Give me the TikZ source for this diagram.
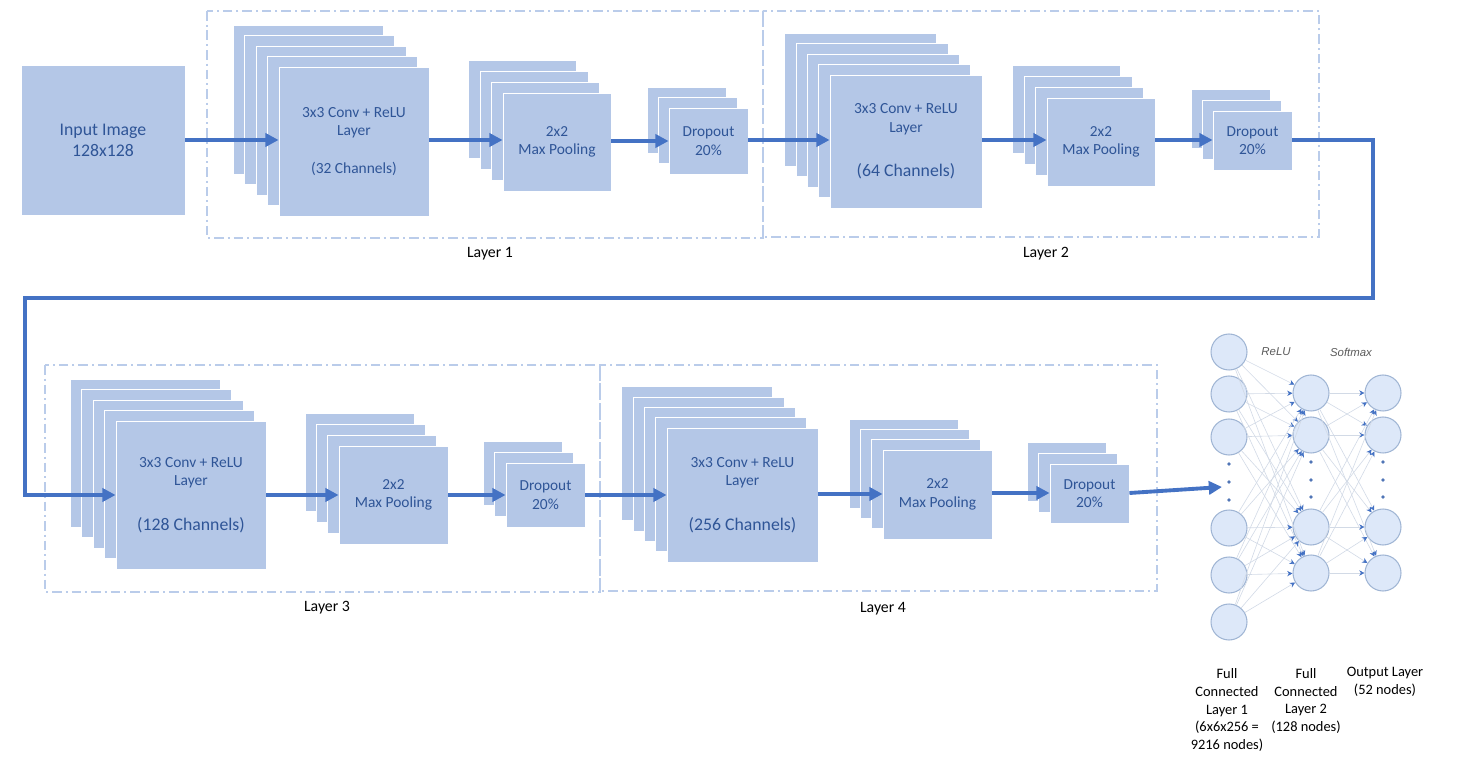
\documentclass[tikz,border=0pt]{standalone}
\usepackage{fontspec}
\setmainfont{Carlito}
\newfontfamily\arialfont{Liberation Sans}
\usetikzlibrary{arrows.meta}
\definecolor{boxblue}{RGB}{180,199,231}
\definecolor{txtblue}{RGB}{47,85,151}
\definecolor{arrblue}{RGB}{68,114,196}
\definecolor{dashblue}{RGB}{186,204,234}
\definecolor{neufill}{RGB}{221,232,249}
\definecolor{neudraw}{RGB}{160,181,212}
\definecolor{edgegray}{RGB}{210,218,230}
\definecolor{actgray}{RGB}{90,90,90}
\tikzset{
  fmap/.style={rectangle, fill=boxblue, draw=white, line width=0.5pt, inner sep=0pt,
    align=center, text=txtblue, font=\fontsize{8.8}{10.5}\selectfont},
  fmback/.style={fill=boxblue, draw=white, line width=0.5pt},
  flow/.style={draw=arrblue, line width=2.2pt, -{Triangle[length=7.5pt,width=7.5pt]}},
  layerbox/.style={draw=dashblue, line width=0.6pt, dash pattern=on 5.5pt off 2.2pt on 1.2pt off 2.2pt},
  layerlabel/.style={font=\fontsize{9}{11}\selectfont, text=black},
  neuron/.style={circle, fill=neufill, draw=neudraw, line width=0.6pt, minimum size=0.72cm, inner sep=0pt},
  nnedge/.style={draw=edgegray, line width=0.35pt, -{Stealth[length=3pt,width=3pt,color=arrblue]}},
  nndot/.style={fill=arrblue!80!gray},
  actlabel/.style={font=\arialfont\itshape\fontsize{6.5}{8}\selectfont, text=actgray},
  fclabel/.style={align=center, font=\fontsize{8.2}{10.1}\selectfont, text=black}
}
% #1 name, #2 cx, #3 cy, #4 w, #5 h, #6 number of back sheets, #7 dx, #8 dy, #9 text
\newcommand{\fmstack}[9]{%
  \pgfmathsetmacro{\fmw}{#4*0.02}%
  \pgfmathsetmacro{\fmh}{#5*0.02}%
  \foreach \i in {#6,...,1}{%
    \path[fmback] ({#2-#4/2-\i*#7},{#3-#5/2-\i*#8}) rectangle ++(#4,#5);
  }%
  \node[fmap, minimum width=\fmw cm, minimum height=\fmh cm] (#1) at (#2,#3) {#9};
}
\newcommand{\convtxt}[1]{3x3 Conv + ReLU\\Layer\\[14.8pt]{\fontsize{10.1}{10.2}\selectfont #1}}
\newcommand{\pooltxt}{\fontsize{8.7}{10.2}\selectfont 2x2\\Max Pooling}
\newcommand{\droptxt}{\fontsize{8.7}{10.6}\selectfont Dropout\\20\%}
\begin{document}
\begin{tikzpicture}[x=0.02cm, y=-0.02cm]
\useasboundingbox (0,0) rectangle (1482,760);

% layer frames
\draw[layerbox] (207,11) rectangle (763,238);
\draw[layerbox] (763,11) rectangle (1319,237);
\draw[layerbox] (45,365) rectangle (600,592);
\draw[layerbox] (600,365) rectangle (1157,591);
\node[layerlabel] (l1) at (490,254) {Layer 1};
\node[layerlabel] (l2) at (1046,254) {Layer 2};
\node[layerlabel] (l3) at (327,608) {Layer 3};
\node[layerlabel] (l4) at (883,609) {Layer 4};

% input
\node[fmap, minimum width=3.28cm, minimum height=3cm, font=\fontsize{10.1}{12}\selectfont] (inp) at (103,140) {Input Image\\128x128};

% layer 1
\fmstack{conv1}{354}{141.5}{150}{149}{4}{11.5}{10.5}{3x3 Conv + ReLU\\Layer\\[10.8pt](32 Channels)}
\fmstack{pool1}{557}{142}{108}{98}{3}{11.5}{11}{\pooltxt}
\fmstack{drop1}{708.5}{141}{79}{66}{2}{11}{10.5}{\droptxt}
% layer 2
\fmstack{conv2}{906}{141.5}{152}{133}{4}{11.3}{10.5}{\convtxt{(64 Channels)}}
\fmstack{pool2}{1101}{142}{108}{88}{3}{11.5}{11}{\pooltxt}
\fmstack{drop2}{1252.5}{140.5}{79}{59}{2}{11}{11}{\droptxt}
% layer 3
\fmstack{conv3}{191}{495}{150}{148}{4}{11.5}{10.5}{\convtxt{(128 Channels)}}
\fmstack{pool3}{393.5}{495}{109}{98}{3}{11.3}{11}{\pooltxt}
\fmstack{drop3}{545.5}{495}{79}{64}{2}{11.5}{11}{\droptxt}
% layer 4
\fmstack{conv4}{742.5}{495}{151}{134}{4}{11.3}{10.3}{\convtxt{(256 Channels)}}
\fmstack{pool4}{937.5}{494.5}{109}{89}{3}{11.3}{10.3}{\pooltxt}
\fmstack{drop4}{1089.5}{493.5}{79}{59}{2}{11.5}{11}{\droptxt}

% flow arrows
\draw[flow] (inp.east) -- (inp.east -| conv1.west);
\draw[flow] (conv1.east |- 0,140) -- (pool1.west |- 0,140);
\draw[flow] (pool1.east |- 0,141) -- (drop1.west |- 0,141);
\draw[flow] (drop1.east |- 0,140) -- (conv2.west |- 0,140);
\draw[flow] (conv2.east |- 0,140) -- (pool2.west |- 0,140);
\draw[flow] (pool2.east |- 0,140) -- (drop2.west |- 0,140);
\coordinate (t1) at (1373,298);
\coordinate (t2) at (25,298);
\draw[flow] (drop2.east |- 0,140) -| (t1) -- (t2) |- (conv3.west |- 0,495);
\draw[flow] (conv3.east |- 0,495) -- (pool3.west |- 0,495);
\draw[flow] (pool3.east |- 0,495) -- (drop3.west |- 0,495);
\draw[flow] (drop3.east |- 0,495) -- (conv4.west |- 0,495);
\draw[flow] (conv4.east |- 0,494) -- (pool4.west |- 0,494);
\draw[flow] (pool4.east |- 0,493) -- (drop4.west |- 0,493);
\coordinate (nnin) at (1222,487);
\draw[flow] (drop4.east |- 0,493) -- (nnin);

% fully connected network
\foreach \n/\yy in {1/352,2/394,3/437,4/528,5/575,6/622}
  \node[neuron] (a\n) at (1229,\yy) {};
\foreach \n/\yy in {1/393,2/435,3/527,4/573}{
  \node[neuron] (b\n) at (1311,\yy) {};
  \node[neuron] (c\n) at (1383,\yy) {};
}
\foreach \i in {1,...,6}
  \foreach \j in {1,...,4}
    \draw[nnedge] (a\i) -- (b\j);
\foreach \i in {1,...,4}
  \foreach \j in {1,...,4}
    \draw[nnedge] (b\i) -- (c\j);
\foreach \yy in {464,482,500}
  \fill[nndot] (1229,\yy) circle (1.1pt);
\foreach \yy in {462,480,497}{
  \fill[nndot] (1311,\yy) circle (1.1pt);
  \fill[nndot] (1383,\yy) circle (1.1pt);
}
\node[actlabel] (relu) at (1276,352) {ReLU};
\node[actlabel] (smax) at (1351,352) {Softmax};

\node[fclabel] (fc1) at (1227,710) {Full\\Connected\\Layer 1\\(6x6x256 =\\9216 nodes)};
\node[fclabel] (fc2) at (1306,701) {Full\\Connected\\Layer 2\\(128 nodes)};
\node[fclabel] (outl) at (1385,682) {Output Layer\\(52 nodes)};
\end{tikzpicture}
\end{document}
